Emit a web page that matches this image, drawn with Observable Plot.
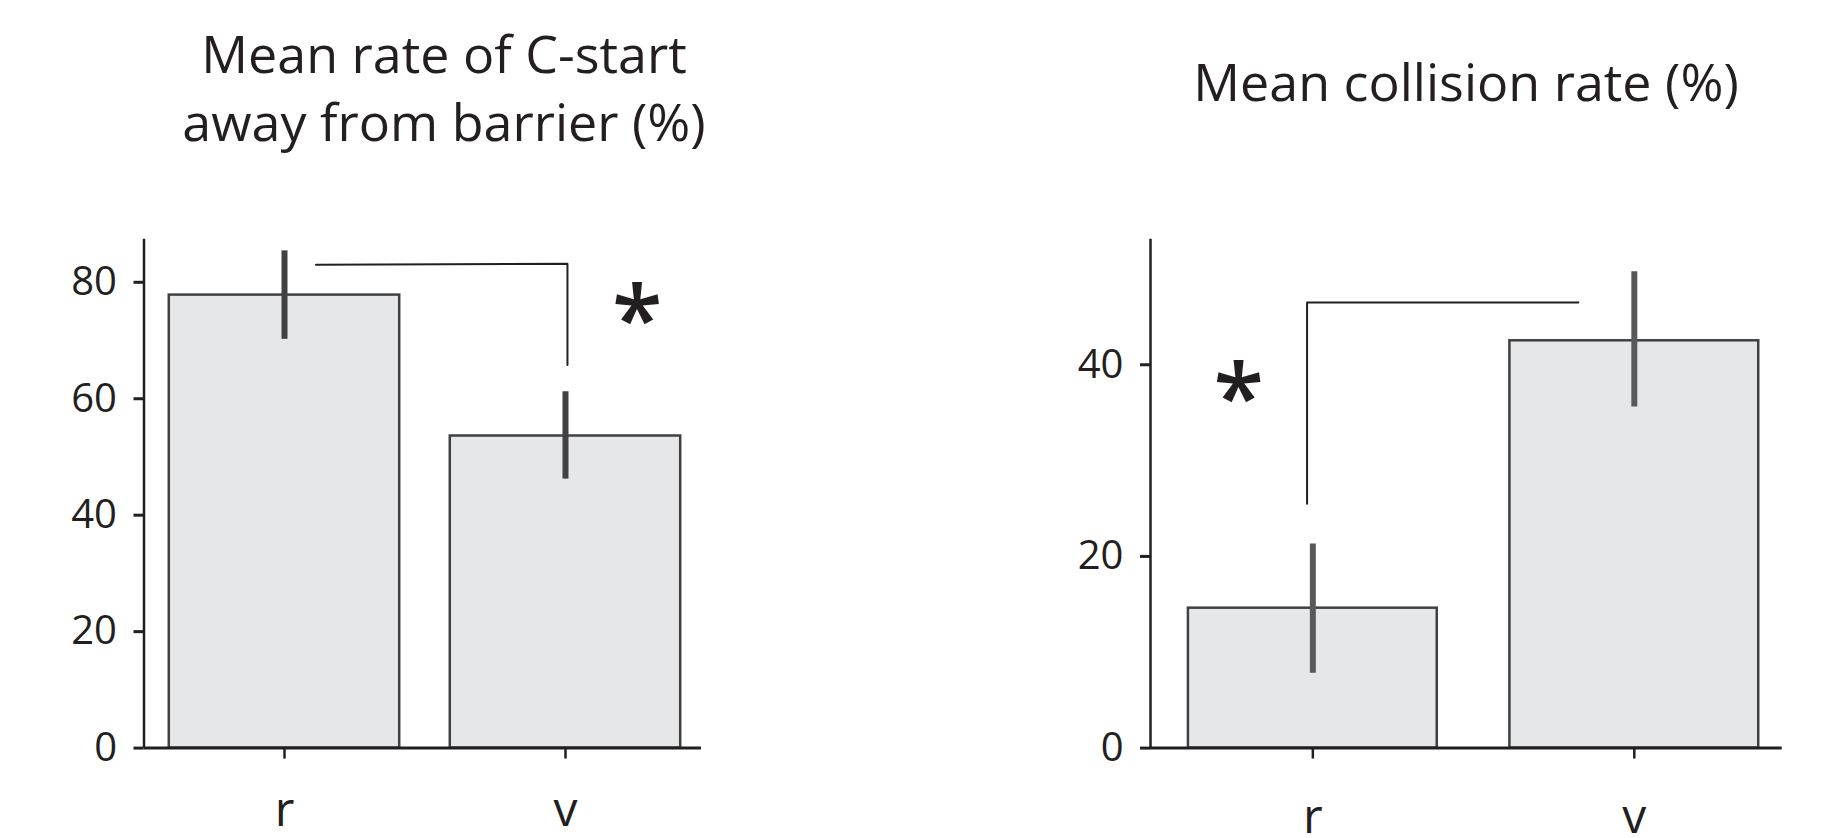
<!DOCTYPE html>
<html>
<head>
<meta charset="utf-8">
<script src="https://cdn.jsdelivr.net/npm/d3@7"></script>
<script src="https://cdn.jsdelivr.net/npm/@observablehq/plot@0.6"></script>
<style>
  html, body { margin: 0; padding: 0; background: #fff; }
  #wrap { position: relative; width: 1826px; height: 838px; overflow: hidden; font-family: "Open Sans", sans-serif; color: #231f20; }
  .title { position: absolute; width: 600px; text-align: center; font-size: 52px; line-height: 68px; }
  #t1 { left: 144px; top: 19px; }
  #t2 { left: 1166px; top: 47px; }
  #c1 { position: absolute; left: 0; top: 200px; }
  #c2 { position: absolute; left: 780px; top: 200px; }
  svg { overflow: visible; }
</style>
</head>
<body>
<div id="wrap">
  <div class="title" id="t1">Mean rate of C-start<br>away from barrier (%)</div>
  <div class="title" id="t2">Mean collision rate (%)</div>
  <div id="c1"></div>
  <div id="c2"></div>
</div>
<script>
// ---- data ----
const categories = ["r", "v"];

const cstartMean = [77.8, 53.6];
const cstartLow  = [70.2, 46.2];
const cstartHigh = [85.4, 61.2];
const cstartTicks = [0, 20, 40, 60, 80];

const collisionMean = [14.6, 42.5];
const collisionLow  = [7.8, 35.6];
const collisionHigh = [21.3, 49.7];
const collisionTicks = [0, 20, 40];

// significance annotations (bracket vertices in data units, star position)
const cstartBracket = [[0.112, 83.0], [1.007, 83.2], [1.007, 65.8]];
const cstartStar = [{x: 1.255, y: 76.0}];
const collisionBracket = [[0.826, 46.5], [-0.018, 46.5], [-0.018, 25.5]];
const collisionStar = [{x: -0.231, y: 38.0}];

const ink = "#231f20";
const barFill = "#e6e7e8";
const barStroke = "#414042";

function panel({mean, low, high, ticks, bracket, star, xDomain, yMax, halfWidth,
                width, marginLeft, marginRight, errColor, catPad}) {
  const idx = d3.range(categories.length);
  return Plot.plot({
    width, height: 638,
    marginLeft, marginRight, marginTop: 38.7, marginBottom: 90.4,
    style: {fontFamily: "Open Sans", fontSize: "40px", color: ink, background: "transparent", overflow: "visible"},
    x: {type: "linear", domain: xDomain},
    y: {domain: [0, yMax]},
    marks: [
      Plot.rectY(idx, {x1: i => i - halfWidth, x2: i => i + halfWidth, y1: 0, y2: i => mean[i],
        fill: barFill, stroke: barStroke, strokeWidth: 2.5}),
      Plot.ruleX(idx, {x: i => i, y1: i => low[i], y2: i => high[i], stroke: errColor, strokeWidth: 6}),
      Plot.ruleX([xDomain[0]], {y1: 0, y2: yMax, stroke: ink, strokeWidth: 2.5}),
      Plot.ruleY([0], {stroke: ink, strokeWidth: 3}),
      Plot.line(bracket, {x: d => d[0], y: d => d[1], stroke: ink, strokeWidth: 2}),
      Plot.text(star, {x: "x", y: "y", text: () => "*", fontSize: 92, fontWeight: 600, fill: ink, dy: 17}),
      Plot.axisY({ticks, tickSize: 10, tickPadding: 17, fontSize: 40, strokeWidth: 3, label: null}),
      Plot.axisX({ticks: idx, tickFormat: i => categories[i], tickSize: 11, tickPadding: catPad,
        fontSize: 48, strokeWidth: 2.5, label: null})
    ]
  });
}

document.getElementById("c1").append(panel({
  mean: cstartMean, low: cstartLow, high: cstartHigh, ticks: cstartTicks,
  bracket: cstartBracket, star: cstartStar,
  xDomain: [-0.5, 1.484], yMax: 87.4, halfWidth: 0.41,
  width: 780, marginLeft: 143.5, marginRight: 79, errColor: "#414042", catPad: 33
}));

document.getElementById("c2").append(panel({
  mean: collisionMean, low: collisionLow, high: collisionHigh, ticks: collisionTicks,
  bracket: collisionBracket, star: collisionStar,
  xDomain: [-0.505, 1.46], yMax: 53.1, halfWidth: 0.387,
  width: 1046, marginLeft: 370, marginRight: 44.3, errColor: "#58595b", catPad: 40
}));
</script>
</body>
</html>
